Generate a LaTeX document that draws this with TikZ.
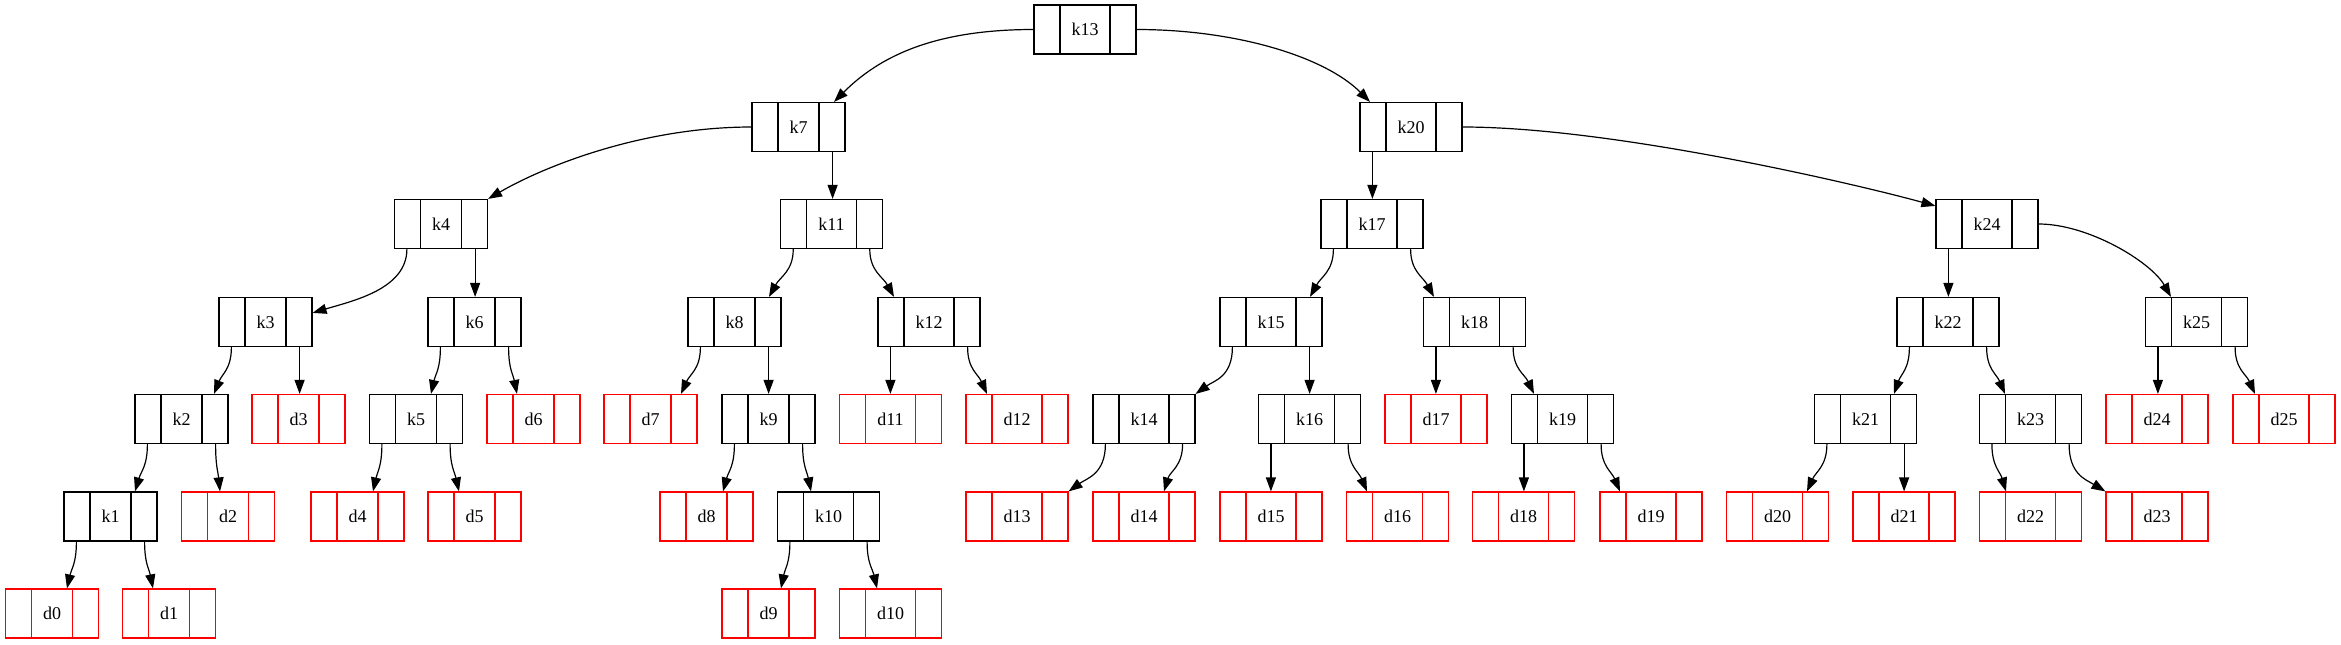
\documentclass[tikz,border=0pt]{standalone}
\usepackage{fontspec}
\setmainfont{Liberation Serif}
\usetikzlibrary{arrows.meta,calc}
\tikzset{
  rec/.style={draw=#1, line width=0.6pt, minimum height=24.5pt, inner xsep=18.75pt, inner ysep=0pt,
    font=\fontsize{9}{10}\selectfont,
    path picture={\draw[#1, line width=0.6pt]
      ([xshift=13pt]path picture bounding box.north west) -- ([xshift=13pt]path picture bounding box.south west)
      ([xshift=-13pt]path picture bounding box.north east) -- ([xshift=-13pt]path picture bounding box.south east);}},
  knode/.style={rec=black},
  dnode/.style={rec=red},
  edge/.style={line width=0.6pt, -{Triangle[length=7pt,width=5pt]}},
}
\begin{document}
\begin{tikzpicture}[x=0.5pt,y=-0.5pt]
\useasboundingbox (0,0) rectangle (2341,644);
% row 0
\node[knode] (k13) at (1085,29.5) {k13};
% row 1
\node[knode] (k7) at (798.5,127) {k7};
\node[knode] (k20) at (1411,127) {k20};
% row 2
\node[knode] (k4) at (441,224) {k4};
\node[knode] (k11) at (831.5,224) {k11};
\node[knode] (k17) at (1372,224) {k17};
\node[knode] (k24) at (1987,224) {k24};
% row 3
\node[knode] (k3) at (265.5,322) {k3};
\node[knode] (k6) at (474.5,322) {k6};
\node[knode] (k8) at (734.5,322) {k8};
\node[knode] (k12) at (929,322) {k12};
\node[knode] (k15) at (1271,322) {k15};
\node[knode] (k18) at (1474.5,322) {k18};
\node[knode] (k22) at (1948,322) {k22};
\node[knode] (k25) at (2196.5,322) {k25};
% row 4
\node[knode] (k2) at (181.5,419) {k2};
\node[dnode] (d3) at (298.5,419) {d3};
\node[knode] (k5) at (416,419) {k5};
\node[dnode] (d6) at (533.5,419) {d6};
\node[dnode] (d7) at (650.5,419) {d7};
\node[knode] (k9) at (768.5,419) {k9};
\node[dnode] (d11) at (890.5,419) {d11};
\node[dnode] (d12) at (1017,419) {d12};
\node[knode] (k14) at (1144,419) {k14};
\node[knode] (k16) at (1309.5,419) {k16};
\node[dnode] (d17) at (1436,419) {d17};
\node[knode] (k19) at (1562.5,419) {k19};
\node[knode] (k21) at (1865.5,419) {k21};
\node[knode] (k23) at (2030.5,419) {k23};
\node[dnode] (d24) at (2157,419) {d24};
\node[dnode] (d25) at (2284,419) {d25};
% row 5
\node[knode] (k1) at (110.5,516.5) {k1};
\node[dnode] (d2) at (228,516.5) {d2};
\node[dnode] (d4) at (357.5,516.5) {d4};
\node[dnode] (d5) at (474.5,516.5) {d5};
\node[dnode] (d8) at (706.5,516.5) {d8};
\node[knode] (k10) at (828.5,516.5) {k10};
\node[dnode] (d13) at (1017,516.5) {d13};
\node[dnode] (d14) at (1144,516.5) {d14};
\node[dnode] (d15) at (1271,516.5) {d15};
\node[dnode] (d16) at (1397.5,516.5) {d16};
\node[dnode] (d18) at (1523.5,516.5) {d18};
\node[dnode] (d19) at (1651,516.5) {d19};
\node[dnode] (d20) at (1777.5,516.5) {d20};
\node[dnode] (d21) at (1904,516.5) {d21};
\node[dnode] (d22) at (2030.5,516.5) {d22};
\node[dnode] (d23) at (2157,516.5) {d23};
% row 6
\node[dnode] (d0) at (52,613.5) {d0};
\node[dnode] (d1) at (169,613.5) {d1};
\node[dnode] (d9) at (768.5,613.5) {d9};
\node[dnode] (d10) at (890.5,613.5) {d10};
% ports
\foreach \i in {1,...,25} {
  \coordinate (k\i-l) at ($(k\i.south west)+(13,0)$);
  \coordinate (k\i-r) at ($(k\i.south east)+(-13,0)$);
}
% edges top
\draw[edge] (k13.west) .. controls +(-100,0) and +(45,-45) .. ($(k7.north)+(35.5,0)$);
\draw[edge] (k13.east) .. controls +(100,0) and +(-45,-45) .. ($(k20.north)+(-41,0)$);
\draw[edge] (k7.west) .. controls +(-110,0) and +(55,-32) .. (k4.north east);
\draw[edge] (k7-r) -- (k7-r |- k11.north);
\draw[edge] (k20-l) -- (k20-l |- k17.north);
\draw[edge] (k20.east) .. controls +(150,0) and +(-80,-22) .. ($(k24.north west)+(0,7)$);
\draw[edge] (k4-l) .. controls +(0,40) and +(40,-12) .. ($(k3.north east)+(0,16)$);
\draw[edge] (k4-r) -- (k4-r |- k6.north);
\draw[edge] (k11-l) .. controls +(0,22) and +(11,-20) .. ($(k8.north)+(34.5,0)$);
\draw[edge] (k11-r) .. controls +(0,22) and +(-11,-20) .. ($(k12.north)+(-35,0)$);
\draw[edge] (k17-l) .. controls +(0,22) and +(11,-20) .. ($(k15.north)+(39,0)$);
\draw[edge] (k17-r) .. controls +(0,22) and +(-11,-20) .. ($(k18.north)+(-40.5,0)$);
\draw[edge] (k24-l) -- (k24-l |- k22.north);
\draw[edge] (k24.east) .. controls +(50,0) and +(-20,-35) .. ($(k25.north)+(-25.5,0)$);
% row 3 -> 4
\draw[edge] (k3-l) .. controls +(0,22) and +(8,-20) .. ($(k2.north)+(32.5,0)$);
\draw[edge] (k3-r) -- (k3-r |- d3.north);
\draw[edge] (k6-l) .. controls +(0,22) and +(4.5,-20) .. ($(k5.north)+(15,0)$);
\draw[edge] (k6-r) .. controls +(0,22) and +(-4,-20) .. ($(d6.north)+(-16.5,0)$);
\draw[edge] (k8-l) .. controls +(0,22) and +(9,-20) .. ($(d7.north)+(30.5,0)$);
\draw[edge] (k8-r) -- (k8-r |- k9.north);
\draw[edge] (k12-l) -- (k12-l |- d11.north);
\draw[edge] (k12-r) .. controls +(0,22) and +(-9,-20) .. ($(d12.north)+(-30,0)$);
\draw[edge] (k15-l) .. controls +(0,30) and +(18,-13) .. (k14.north east);
\draw[edge] (k15-r) -- (k15-r |- k16.north);
\draw[edge] (k18-l) -- (k18-l |- d17.north);
\draw[edge] (k18-r) .. controls +(0,22) and +(-9.5,-20) .. ($(k19.north)+(-28.5,0)$);
\draw[edge] (k22-l) .. controls +(0,22) and +(7,-20) .. ($(k21.north)+(28.5,0)$);
\draw[edge] (k22-r) .. controls +(0,22) and +(-8.5,-20) .. ($(k23.north)+(-25.5,0)$);
\draw[edge] (k25-l) -- (k25-l |- d24.north);
\draw[edge] (k25-r) .. controls +(0,22) and +(-9,-20) .. ($(d25.north)+(-29,0)$);
% row 4 -> 5
\draw[edge] (k2-l) .. controls +(0,22) and +(6,-20) .. ($(k1.north)+(24.5,0)$);
\draw[edge] (k2-r) .. controls +(0,22) and +(-2,-20) .. ($(d2.north)+(-8,0)$);
\draw[edge] (k5-l) .. controls +(0,22) and +(4.5,-20) .. ($(d4.north)+(15.5,0)$);
\draw[edge] (k5-r) .. controls +(0,22) and +(-4.5,-20) .. ($(d5.north)+(-15.5,0)$);
\draw[edge] (k9-l) .. controls +(0,22) and +(5.5,-20) .. ($(d8.north)+(16.5,0)$);
\draw[edge] (k9-r) .. controls +(0,22) and +(-4,-20) .. ($(k10.north)+(-17.5,0)$);
\draw[edge] (k14-l) .. controls +(0,30) and +(18,-13) .. (d13.north east);
\draw[edge] (k14-r) .. controls +(0,22) and +(6,-20) .. ($(d14.north)+(20,0)$);
\draw[edge] (k16-l) -- (k16-l |- d15.north);
\draw[edge] (k16-r) .. controls +(0,22) and +(-8.5,-20) .. ($(d16.north)+(-30.5,0)$);
\draw[edge] (k19-l) -- (k19-l |- d18.north);
\draw[edge] (k19-r) .. controls +(0,22) and +(-8.5,-20) .. ($(d19.north)+(-31,0)$);
\draw[edge] (k21-l) .. controls +(0,22) and +(9,-20) .. ($(d20.north)+(29.5,0)$);
\draw[edge] (k21-r) -- (k21-r |- d21.north);
\draw[edge] (k23-l) .. controls +(0,22) and +(-6,-20) .. ($(d22.north)+(-24.5,0)$);
\draw[edge] (k23-r) .. controls +(0,30) and +(-20,-12) .. (d23.north west);
% row 5 -> 6
\draw[edge] (k1-l) .. controls +(0,22) and +(4.5,-20) .. ($(d0.north)+(15,0)$);
\draw[edge] (k1-r) .. controls +(0,22) and +(-4,-20) .. ($(d1.north)+(-16,0)$);
\draw[edge] (k10-l) .. controls +(0,22) and +(4,-20) .. ($(d9.north)+(12.5,0)$);
\draw[edge] (k10-r) .. controls +(0,22) and +(-4.5,-20) .. ($(d10.north)+(-13.5,0)$);
\end{tikzpicture}
\end{document}
